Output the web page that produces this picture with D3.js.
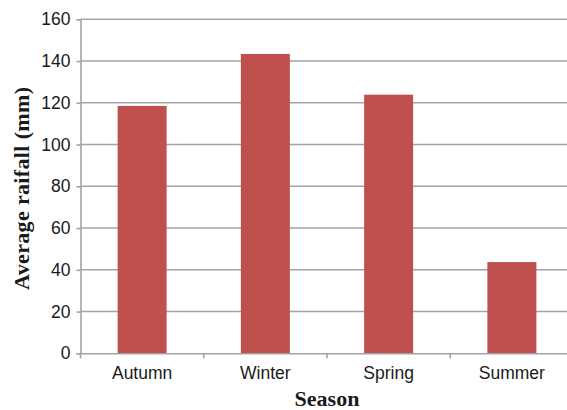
<!DOCTYPE html>
<html>
<head>
<meta charset="utf-8">
<script src="https://cdn.jsdelivr.net/npm/d3@7"></script>
<style>
html,body{margin:0;padding:0;background:#fff;}
svg{display:block;}
</style>
</head>
<body>
<svg id="chart" width="567" height="410"></svg>
<script>
const categories = ["Autumn", "Winter", "Spring", "Summer"];
const rainfall = [118.5, 143.4, 123.9, 43.7];
const yTicks = [0, 20, 40, 60, 80, 100, 120, 140, 160];

(function () {
const svg = d3.select("#chart");
const mLeft = 80.5, mRight = 573.5, mTop = 19.3, mBottom = 353.3;

const xb = d3.scaleBand().domain(categories).range([mLeft, mRight]);
const y = d3.scaleLinear().domain([0, 160]).range([mBottom, mTop]);

const gridColor = "#a3a3a3";

// gridlines
svg.append("g").selectAll("line").data(yTicks.filter(d => d > 0)).join("line")
  .attr("x1", mLeft).attr("x2", 567)
  .attr("y1", d => y(d)).attr("y2", d => y(d))
  .attr("stroke", gridColor).attr("stroke-width", 1.6);

// bars
svg.append("g").selectAll("rect").data(categories).join("rect")
  .attr("x", d => xb(d) + xb.bandwidth() / 2 - 24.5)
  .attr("width", 49)
  .attr("y", (d, i) => y(rainfall[i]))
  .attr("height", (d, i) => y(0) - y(rainfall[i]))
  .attr("fill", "#c0504d");

// y axis
const yAxis = svg.append("g").attr("transform", `translate(${mLeft},0)`)
  .call(d3.axisLeft(y).tickValues(yTicks).tickSize(4).tickPadding(6));
yAxis.select(".domain").attr("stroke", gridColor).attr("stroke-width", 1.6);
yAxis.selectAll(".tick line").attr("stroke", gridColor).attr("stroke-width", 1.6);
yAxis.selectAll("text").attr("font-family", "'Liberation Sans', Arial, sans-serif")
  .attr("font-size", 17.5).attr("fill", "#1a1a1a");

// x axis
const xAxis = svg.append("g").attr("transform", `translate(0,${mBottom})`)
  .call(d3.axisBottom(xb).tickSize(0).tickPadding(13));
xAxis.select(".domain").attr("stroke", gridColor).attr("stroke-width", 1.6);
xAxis.selectAll("text").attr("font-family", "'Liberation Sans', Arial, sans-serif")
  .attr("font-size", 17.5).attr("fill", "#1a1a1a");
// tick marks between categories
const bounds = [mLeft, ...categories.slice(1).map(c => xb(c))];
svg.append("g").selectAll("line").data(bounds).join("line")
  .attr("x1", d => d).attr("x2", d => d)
  .attr("y1", mBottom).attr("y2", mBottom + 5)
  .attr("stroke", gridColor).attr("stroke-width", 1.6);

// axis titles
svg.append("text")
  .attr("x", (mLeft + mRight) / 2).attr("y", 406)
  .attr("text-anchor", "middle")
  .attr("font-family", "'Liberation Serif', 'Times New Roman', serif")
  .attr("font-weight", "bold").attr("font-size", 22).attr("fill", "#1a1a1a")
  .text("Season");

svg.append("text")
  .attr("transform", `translate(29,${(mTop + mBottom) / 2 + 2}) rotate(-90)`)
  .attr("text-anchor", "middle")
  .attr("font-family", "'Liberation Serif', 'Times New Roman', serif")
  .attr("font-weight", "bold").attr("font-size", 22).attr("fill", "#1a1a1a")
  .attr("letter-spacing", 0.35)
  .text("Average raifall (mm)");
})();
</script>
</body>
</html>
